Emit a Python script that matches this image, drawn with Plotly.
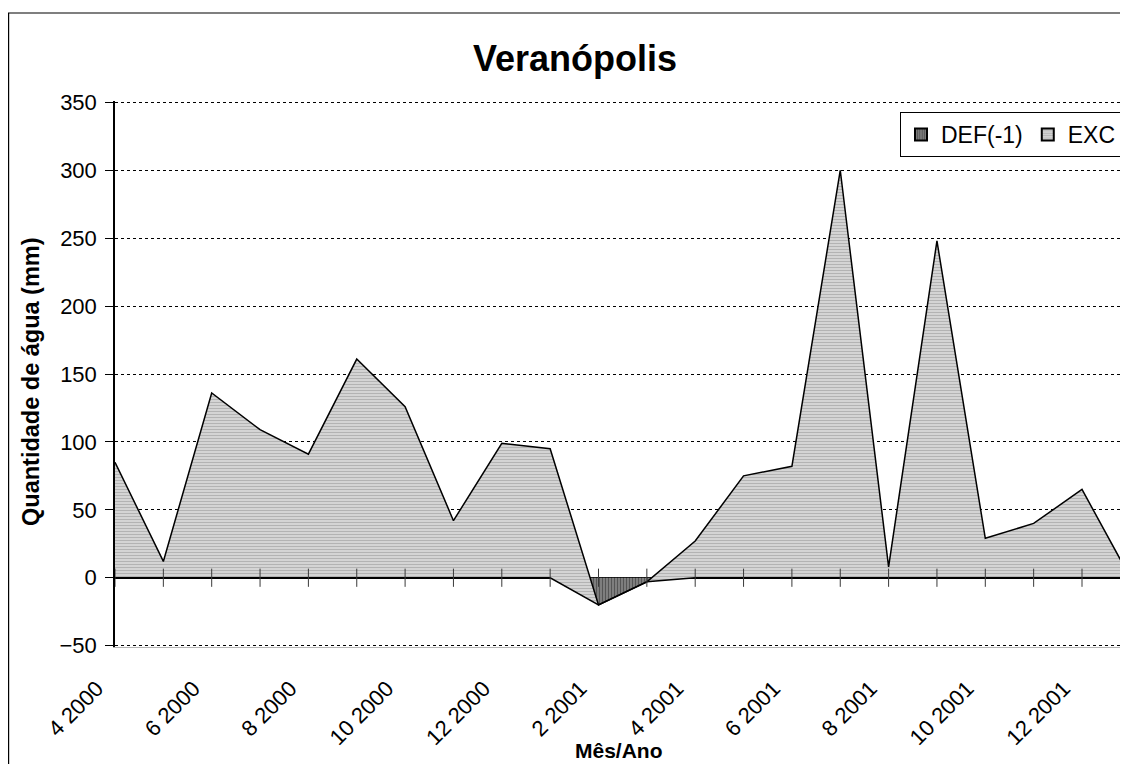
import plotly.graph_objects as go

categories = ["4 2000", "5 2000", "6 2000", "7 2000", "8 2000", "9 2000", "10 2000",
              "11 2000", "12 2000", "1 2001", "2 2001", "3 2001", "4 2001", "5 2001",
              "6 2001", "7 2001", "8 2001", "9 2001", "10 2001", "11 2001", "12 2001",
              "1 2002"]
def_values = [0, 0, 0, 0, 0, 0, 0, 0, 0, 0, -20, -3, 0, 0, 0, 0, 0, 0, 0, 0, 0, 0]
exc_values = [85, 12, 136, 109, 91, 161, 126, 42, 99, 95, 0, 0, 27, 75, 82, 300, 8,
              248, 29, 40, 65, 0]
tick_labels = categories[::2]

# page has an 8px body margin; figure drawn at page offset (8, 8)
W, H = 1120, 756
ML, MR, MT, MB = 107, 0, 93, 117
pw = W - ML - MR
ph = H - MT - MB

DEF_PAT = dict(shape="|", fgcolor="#262626", bgcolor="#858585", size=3, solidity=0.45)
EXC_PAT = dict(shape="-", fgcolor="#8c8c8c", bgcolor="#dadada", size=3, solidity=0.45)

fig = go.Figure()
fig.add_trace(go.Scatter(
    x=categories, y=def_values, name="DEF(-1)", stackgroup="one", mode="lines",
    line=dict(color="black", width=1.5), fillcolor="#707070", fillpattern=DEF_PAT,
    hoverinfo="skip", showlegend=False,
))
fig.add_trace(go.Scatter(
    x=categories, y=exc_values, name="EXC", stackgroup="one", mode="lines",
    line=dict(color="black", width=1.5), fillcolor="#c8c8c8", fillpattern=EXC_PAT,
    hoverinfo="skip", showlegend=False,
))
# cross tick marks on the zero axis
fig.add_trace(go.Scatter(
    x=categories, y=[0] * len(categories), mode="markers", showlegend=False,
    marker=dict(symbol="line-ns-open", size=13, color="#3a3a3a",
                line=dict(color="#3a3a3a", width=1)),
    hoverinfo="skip", cliponaxis=False,
))
# legend entries (square patterned swatches)
for nm, pat in (("DEF(-1)", DEF_PAT), ("EXC", EXC_PAT)):
    fig.add_trace(go.Bar(
        x=[None], y=[None], name=nm, showlegend=True, hoverinfo="skip",
        marker=dict(color=pat["bgcolor"], line=dict(color="black", width=1),
                    pattern=dict(shape=pat["shape"], fgcolor=pat["fgcolor"],
                                 bgcolor=pat["bgcolor"], size=3, solidity=0.5)),
    ))

fig.update_layout(
    width=W, height=H,
    margin=dict(l=ML, r=MR, t=MT, b=MB, pad=0),
    paper_bgcolor="white", plot_bgcolor="white",
    font=dict(family="Arial, Liberation Sans, sans-serif", color="black"),
    title=dict(text="<b>Veranópolis</b>", x=(567 - ML) / pw, xref="paper", xanchor="center",
               y=1 - 50 / H, yanchor="middle", font=dict(size=36, color="black")),
    showlegend=True,
    legend=dict(orientation="h", x=(1114 - ML) / pw, xanchor="right",
                y=1 - (104 - MT) / ph, yanchor="top",
                bgcolor="white", bordercolor="black", borderwidth=1,
                font=dict(size=23), traceorder="normal",
                itemsizing="constant", itemwidth=30),
    xaxis=dict(
        type="category", range=[0, pw / 48.35],
        tickmode="array", tickvals=tick_labels, ticktext=tick_labels,
        tickangle=-45, tickfont=dict(size=22), ticks="",
        ticklabelstandoff=19, ticklabelshift=-18,
        showgrid=False, zeroline=False,
        showline=True, linecolor="#b4b4b4", linewidth=1,
    ),
    yaxis=dict(
        range=[-51, 351], tickmode="linear", tick0=-50, dtick=50,
        tickfont=dict(size=22), ticks="outside", ticklen=8, tickcolor="black",
        ticklabelstandoff=4,
        showgrid=True, gridcolor="black", griddash="dot", gridwidth=1,
        zeroline=True, zerolinecolor="black", zerolinewidth=2,
        showline=True, linecolor="black", linewidth=1.5,
    ),
    annotations=[
        dict(text="<b>Quantidade de água (mm)</b>", xref="paper", yref="paper",
             x=(23 - ML) / pw, y=1 - (382 - 8 - MT) / ph, textangle=-90,
             showarrow=False, font=dict(size=23.5), xanchor="center", yanchor="middle"),
        dict(text="<b>Mês/Ano</b>", xref="paper", yref="paper",
             x=(611 - ML) / pw, y=-(742 - MT - ph) / ph,
             showarrow=False, font=dict(size=21), xanchor="center", yanchor="middle"),
    ],
    shapes=[dict(type="rect", xref="paper", yref="paper",
                 x0=(0.6 - ML) / pw, x1=(W + 20 - ML) / pw,
                 y0=-(H + 20 - MT - ph) / ph, y1=1 + (MT - 5) / ph,
                 line=dict(color="black", width=1.2), fillcolor="rgba(0,0,0,0)", layer="below")],
)

fig.write_html("out.html")
